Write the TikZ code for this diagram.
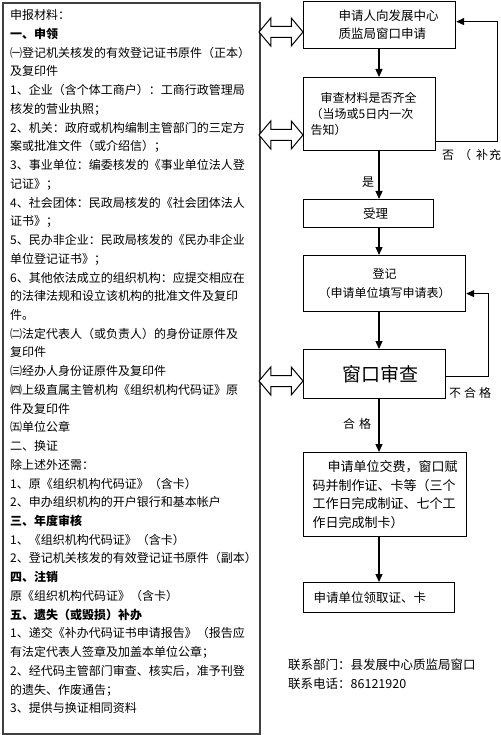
\documentclass[tikz,border=0pt]{standalone}
\usepackage{fontspec}
\setmainfont{Noto Sans CJK SC}
\usetikzlibrary{arrows.meta,shapes.arrows}
\begin{document}
\begin{tikzpicture}[x=1pt,y=-1pt,
  box/.style={draw=black, line width=1.2pt, anchor=north west, inner ysep=0pt},
  arr/.style={line width=1.3pt, -{Triangle[length=8pt,width=7pt]}},
  dbl/.style={double arrow, draw=black, fill=white, line width=1pt, minimum height=44pt,
    inner sep=5pt, double arrow head extend=8.5pt, double arrow tip angle=100},
  lbl/.style={font=\fontsize{12}{14}\selectfont, inner sep=0pt}
]
\useasboundingbox (0,0) rectangle (500,735);

% left materials box
\node[draw=black!75, line width=1.6pt, anchor=north west, minimum width=257pt,
  minimum height=731pt, inner sep=0pt] (mat) at (2,2) {};
\node[anchor=north west, align=left, inner sep=0pt, font=\fontsize{12}{18.73}\selectfont] (mtext) at (10,9.5) {%
申报材料：\\
\textbf{一、申领}\\
㈠登记机关核发的有效登记证书原件（正本）\\
及复印件\\
1、企业（含个体工商户）：工商行政管理局\\
核发的营业执照；\\
2、机关：政府或机构编制主管部门的三定方\\
案或批准文件（或介绍信）；\\
3、事业单位：编委核发的《事业单位法人登\\
记证》；\\
4、社会团体：民政局核发的《社会团体法人\\
证书》；\\
5、民办非企业：民政局核发的《民办非企业\\
单位登记证书》；\\
6、其他依法成立的组织机构：应提交相应在\\
的法律法规和设立该机构的批准文件及复印\\
件。\\
㈡法定代表人（或负责人）的身份证原件及\\
复印件\\
㈢经办人身份证原件及复印件\\
㈣上级直属主管机构《组织机构代码证》原\\
件及复印件\\
㈤单位公章\\
二、换证\\
除上述外还需：\\
1、原《组织机构代码证》（含卡）\\
2、申办组织机构的开户银行和基本帐户\\
\textbf{三、年度审核}\\
1、《组织机构代码证》（含卡）\\
2、登记机关核发的有效登记证书原件（副本）\\
\textbf{四、注销}\\
原《组织机构代码证》（含卡）\\
\textbf{五、遗失（或毁损）补办}\\
1、递交《补办代码证书申请报告》（报告应\\
有法定代表人签章及加盖本单位公章；\\
2、经代码主管部门审查、核实后，准予刊登\\
的遗失、作废通告；\\
3、提供与换证相同资料};

% flow boxes
\node[box, minimum width=152pt, minimum height=47pt, text width=138pt, inner xsep=7pt,
  align=left, font=\fontsize{12.5}{18}\selectfont] (b1) at (303,1)
  {\hspace*{28pt}申请人向发展中心\\\hspace*{28pt}质监局窗口申请};
\node[box, minimum width=132pt, minimum height=73pt, text width=118pt, inner xsep=7pt,
  align=left, font=\fontsize{12}{16}\selectfont] (b2) at (303,77)
  {\hspace*{10pt}审查材料是否齐全\\（当场或5日内一次\\告知）};
\node[box, minimum width=130pt, minimum height=28pt, align=center,
  font=\fontsize{12.5}{16}\selectfont] (b3) at (303,199) {\hspace*{14pt}受理};
\node[box, minimum width=162pt, minimum height=56pt, align=center,
  font=\fontsize{12}{19}\selectfont] (b4) at (303,255) {登记\\（申请单位填写申请表）};
\node[box, minimum width=142pt, minimum height=49pt, align=center,
  font=\fontsize{19}{22}\selectfont] (b5) at (303,349) {\hspace*{12pt}窗口审查};
\node[box, minimum width=163pt, minimum height=84pt, text width=145pt, inner xsep=9pt,
  align=left, font=\fontsize{13}{18.5}\selectfont] (b6) at (303,452)
  {\hspace*{15pt}申请单位交费，窗口赋\\码并制作证、卡等（三个\\工作日完成制证、七个工\\作日完成制卡）};
\node[box, minimum width=151pt, minimum height=30pt, text width=131pt, inner xsep=10pt,
  align=left, font=\fontsize{12.5}{16}\selectfont] (b7) at (303,582) {申请单位领取证、卡};

% double arrows between materials and flow
\node[dbl] (d1) at (281,32) {};
\node[dbl] (d2) at (281,135) {};
\node[dbl] (d3) at (281,381) {};

% main flow arrows
\coordinate (ax) at (379,0);
\draw[arr] (b1.south -| ax) -- (b2.north -| ax);
\draw[arr] (b2.south -| ax) -- (b3.north -| ax);
\draw[arr] (b3.south -| ax) -- (b4.north -| ax);
\draw[arr] (b4.south -| ax) -- (b5.north -| ax);
\draw[arr] (b5.south -| ax) -- (b6.north -| ax);
\draw[arr] (b6.south -| ax) -- (b7.north -| ax);

% feedback loops
\draw[arr] ([yshift=10pt]b2.south east) -- ++(61,0) |- ([yshift=3.5pt]b1.east);
\draw[arr] ([yshift=-2.5pt]b5.east) -- ++(42,0) |- ([yshift=-10pt]b4.east);

% labels
\node[lbl] (yes) at (368,182) {是};
\node[lbl, anchor=west] (no) at (442,155) {否\hspace{5pt}（\hspace{5pt}补\hspace{1pt}充};
\node[lbl, anchor=west] (fail) at (449,393) {不\hspace{3pt}合\hspace{3pt}格};
\node[lbl] (pass) at (357,424) {合\hspace{4pt}格};

% contact
\node[anchor=west, align=left, inner sep=0pt, font=\fontsize{12.5}{19}\selectfont] (contact)
  at (288,674.5) {联系部门：县发展中心质监局窗口\\联系电话：86121920};
\end{tikzpicture}
\end{document}
